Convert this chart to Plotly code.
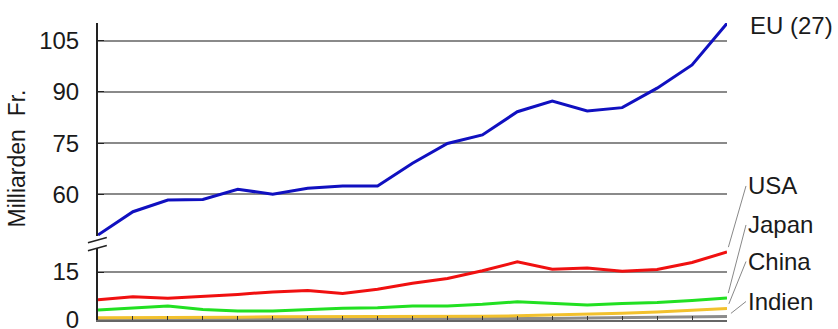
import plotly.graph_objects as go

years = list(range(1990, 2009))
eu = [48.1, 54.9, 58.3, 58.5, 61.5, 60.0, 61.8, 62.4, 62.4, 69.1, 74.9, 77.4, 84.2, 87.3, 84.4, 85.4, 91.1, 97.9, 110.1]
usa = [6.3, 7.3, 6.8, 7.3, 8.0, 8.8, 9.2, 8.3, 9.6, 11.5, 13.0, 15.4, 18.2, 15.9, 16.3, 15.3, 15.8, 18.0, 21.3]
japan = [3.1, 3.7, 4.4, 3.3, 2.8, 2.8, 3.3, 3.7, 3.8, 4.4, 4.4, 4.9, 5.7, 5.2, 4.7, 5.2, 5.5, 6.1, 6.9]
china = [0.7, 0.7, 0.8, 0.8, 0.9, 1.0, 1.0, 1.0, 1.0, 1.1, 1.1, 1.2, 1.3, 1.5, 1.8, 2.1, 2.5, 3.0, 3.6]
india = [0.3, 0.3, 0.3, 0.3, 0.3, 0.3, 0.4, 0.4, 0.4, 0.4, 0.4, 0.4, 0.5, 0.5, 0.6, 0.7, 0.8, 0.9, 1.1]

upper_ticks = [60, 75, 90, 105]
lower_ticks = [0, 15]

FONT = "Liberation Sans, Arial, sans-serif"
TXT = "#1a1a1a"

fig = go.Figure()
lower_series = [
    ("Indien", india, "#8c8c8c"),
    ("China", china, "#f2c12e"),
    ("Japan", japan, "#22e022"),
    ("USA", usa, "#f01010"),
]
for name, vals, col in lower_series:
    fig.add_trace(go.Scatter(x=years, y=vals, mode="lines", name=name,
                             line=dict(color=col, width=3), yaxis="y"))
fig.add_trace(go.Scatter(x=years, y=eu, mode="lines", name="EU (27)",
                         line=dict(color="#1010c0", width=3), yaxis="y2"))

fig.update_layout(
    width=838, height=329,
    margin=dict(l=98, r=111, t=23, b=9, autoexpand=False),
    paper_bgcolor="white", plot_bgcolor="white",
    showlegend=False,
    font=dict(family=FONT, size=24, color=TXT),
    xaxis=dict(range=[years[0], years[-1]], showgrid=False, zeroline=False,
               showline=True, linecolor="#666", linewidth=2,
               ticks="inside", ticklen=4, tickcolor="#333", dtick=1,
               showticklabels=False, automargin=False),
    yaxis=dict(domain=[0, 0.242], range=[0, 22.5], tickvals=lower_ticks,
               showline=True, linecolor="#222", linewidth=2,
               ticks="inside", ticklen=6, tickcolor="#222",
               showgrid=True, gridcolor="#8a8a8a", gridwidth=1.5,
               zeroline=False, ticklabelstandoff=12,
               ticklabeloverflow="allow", automargin=False,
               tickfont=dict(size=24, color=TXT)),
    yaxis2=dict(domain=[0.283, 1], range=[47.8, 110.2], tickvals=upper_ticks,
                anchor="x",
                showline=True, linecolor="#222", linewidth=2,
                ticks="inside", ticklen=6, tickcolor="#222",
                showgrid=True, gridcolor="#8a8a8a", gridwidth=1.5,
                zeroline=False, ticklabelstandoff=12,
                ticklabeloverflow="allow", automargin=False,
                tickfont=dict(size=24, color=TXT)),
)

# axis title
fig.add_annotation(text="Milliarden  Fr.", xref="paper", yref="paper",
                   x=-0.152, y=0.545, textangle=-90, showarrow=False,
                   font=dict(size=23, color=TXT))

# EU label
fig.add_annotation(text="EU (27)", xref="paper", yref="paper",
                   x=1.033, y=0.99, xanchor="left", yanchor="middle",
                   showarrow=False, font=dict(size=24, color=TXT))

# labels with leader lines for lower series
label_offsets = {"USA": -66, "Japan": -73, "China": -47, "Indien": -15}
for name, vals, col in lower_series:
    fig.add_annotation(text=name, x=years[-1], y=vals[-1], xref="x", yref="y",
                       showarrow=True, arrowhead=0, arrowwidth=1,
                       arrowcolor="#888", ax=19, ay=label_offsets[name],
                       standoff=5, xanchor="left", yanchor="middle",
                       font=dict(size=24, color=TXT))

# axis break marks
for y0, y1 in [(0.26, 0.278), (0.233, 0.251)]:
    fig.add_shape(type="line", xref="paper", yref="paper",
                  x0=-0.016, x1=0.014, y0=y0, y1=y1,
                  line=dict(color="#222", width=1.5))

fig.write_html("out.html")
